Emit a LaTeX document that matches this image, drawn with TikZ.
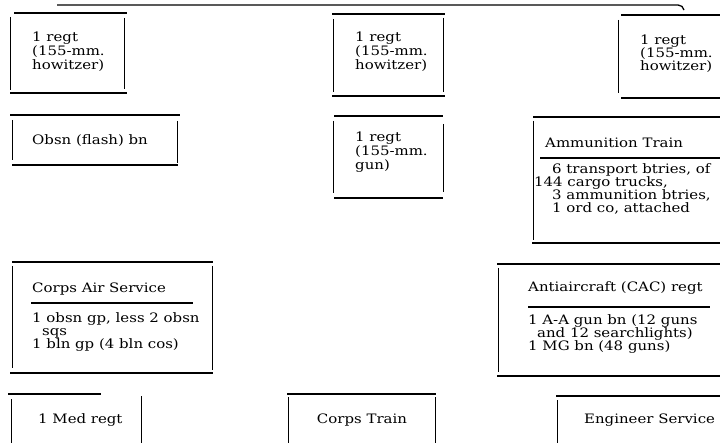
\documentclass[tikz,border=0pt]{standalone}
\usepackage{fontspec}
\setmainfont{DejaVu Serif}[FakeStretch=1.15]
\begin{document}
\begin{tikzpicture}[x=1pt,y=-1pt,
  hl/.style={line width=1.3pt},
  vl/.style={line width=0.9pt},
  txt/.style={anchor=base west,inner sep=0pt,font=\fontsize{13}{13}\selectfont},
  ctxt/.style={anchor=base,inner sep=0pt,font=\fontsize{13}{13}\selectfont}]
\clip (0,0) rectangle (720,443);
\fill[white] (0,0) rectangle (720,443);
% top bracket line
\coordinate (tl) at (57,5);
\coordinate (tr) at (678,5);
\coordinate (te) at (684,10);
\draw[hl] (tl) -- (tr) to[out=0,in=100] (te);
% box 1
\draw[hl] (14,13) -- (127,13) (10,93) -- (127,93);
\draw[vl] (10,17) -- (10,90) (124,18) -- (124,89);
\node[txt] (b1a) at (32,42) {1 regt};
\node[txt] (b1b) at (32,56) {(155-mm.};
\node[txt] (b1c) at (32,70) {howitzer)};
% box 2
\draw[hl] (332,14) -- (445,14) (332,96) -- (445,96);
\draw[vl] (333,19) -- (333,92) (443,18) -- (443,92);
\node[txt] (b2a) at (355,42) {1 regt};
\node[txt] (b2b) at (355,56) {(155-mm.};
\node[txt] (b2c) at (355,70) {howitzer)};
% box 3
\draw[hl] (621,15) -- (720,15) (621,98) -- (720,98);
\draw[vl] (618,20) -- (618,93);
\node[txt] (b3a) at (640,45) {1 regt};
\node[txt] (b3b) at (640,58) {(155-mm.};
\node[txt] (b3c) at (640,71) {howitzer)};
% obsn box
\draw[hl] (10,115) -- (180,115) (12,165) -- (178,165);
\draw[vl] (12,120) -- (12,160) (177,121) -- (177,163);
\node[txt] (ob) at (32,145) {Obsn (flash) bn};
% gun box
\draw[hl] (334,116) -- (443,116) (334,198) -- (443,198);
\draw[vl] (333,121) -- (333,193) (443,124) -- (443,192);
\node[txt] (g1) at (355,142) {1 regt};
\node[txt] (g2) at (355,156) {(155-mm.};
\node[txt] (g3) at (355,170) {gun)};
% ammunition train
\draw[hl] (533,117) -- (720,117) (532,243) -- (720,243);
\draw[vl] (533,121) -- (533,240);
\draw[hl] (540,158) -- (720,158);
\node[txt] (am0) at (545,148) {Ammunition Train};
\node[txt] (am1) at (552,174) {6 transport btries, of};
\node[txt] (am2) at (534,187) {144 cargo trucks,};
\node[txt] (am3) at (552,200) {3 ammunition btries,};
\node[txt] (am4) at (552,213) {1 ord co, attached};
% corps air service
\draw[hl] (12,262) -- (213,262) (10,373) -- (213,373);
\draw[vl] (12,266) -- (12,368) (212,266) -- (212,370);
\draw[hl] (31,303) -- (193,303);
\node[txt] (ca0) at (32,293) {Corps Air Service};
\node[txt] (ca1) at (32,323) {1 obsn gp, less 2 obsn};
\node[txt] (ca2) at (42,336) {sqs};
\node[txt] (ca3) at (32,349) {1 bln gp (4 bln cos)};
% antiaircraft
\draw[hl] (497,264) -- (720,264) (497,376) -- (720,376);
\draw[vl] (498,268) -- (498,372);
\draw[hl] (528,307) -- (710,307);
\node[txt] (aa0) at (528,292) {Antiaircraft (CAC) regt};
\node[txt] (aa1) at (528,325) {1 A-A gun bn (12 guns};
\node[txt] (aa2) at (537,338) {and 12 searchlights)};
\node[txt] (aa3) at (528,351) {1 MG bn (48 guns)};
% bottom row
\draw[hl] (8,394) -- (101,394);
\draw[vl] (11,399) -- (11,443) (141,396) -- (141,443);
\node[txt] (med) at (38,423) {1 Med regt};
\draw[hl] (287,394) -- (436,394);
\draw[vl] (288,397) -- (288,443) (435,397) -- (435,443);
\node[ctxt] (ct) at (362,423) {Corps Train};
\draw[hl] (556,396) -- (720,396);
\draw[vl] (557,400) -- (557,443);
\node[txt] (es) at (584,423) {Engineer Service};
\end{tikzpicture}
\end{document}
